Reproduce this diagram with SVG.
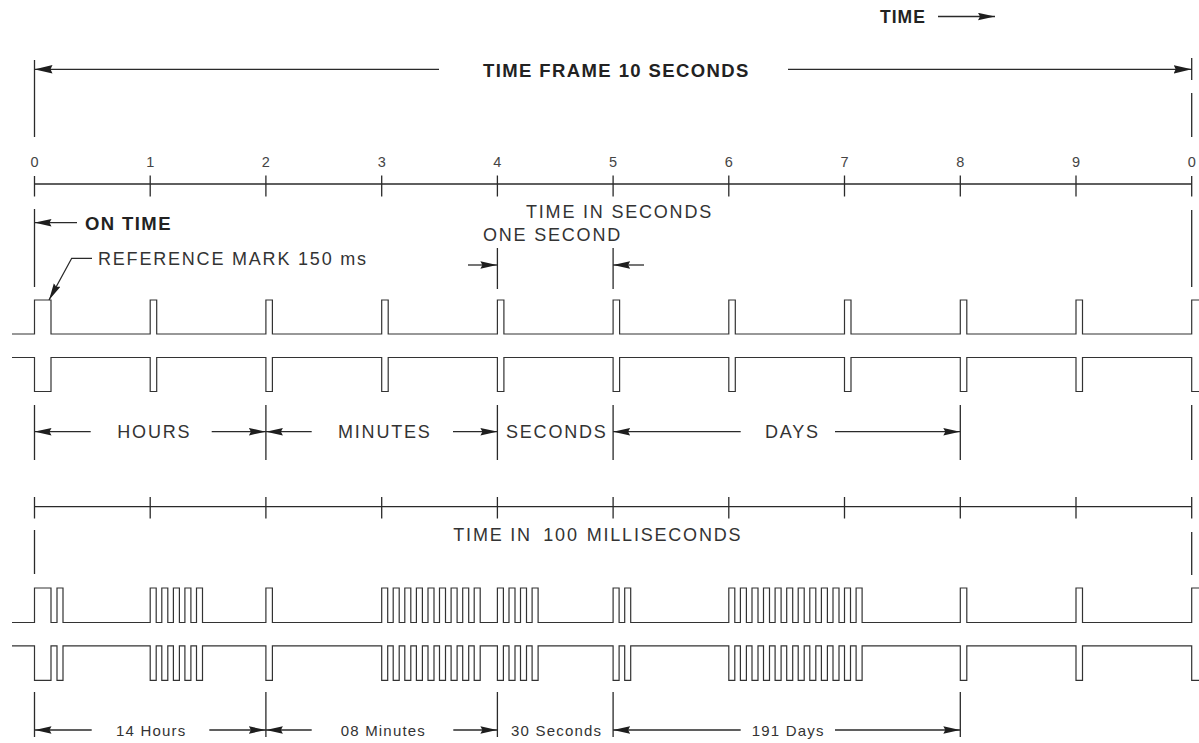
<svg xmlns="http://www.w3.org/2000/svg" width="1199" height="743" viewBox="0 0 1199 743">
<style>
.ln{stroke:#2a2a2a;stroke-width:1.3;fill:none}
.pt{stroke:#333;stroke-width:1.2;fill:none;stroke-linejoin:miter}
.ar{stroke:#2a2a2a;stroke-width:1.3;fill:none;marker-end:url(#ah)}
.arb{stroke:#2a2a2a;stroke-width:1.3;fill:none;marker-end:url(#ahb)}
.b{font-family:"Liberation Sans",Arial,sans-serif;font-weight:bold;font-size:18.5px;letter-spacing:1.4px;fill:#222}
.r{font-family:"Liberation Sans",Arial,sans-serif;font-size:18px;letter-spacing:1.8px;fill:#333}
.s{font-family:"Liberation Sans",Arial,sans-serif;font-size:15px;letter-spacing:1.2px;fill:#333}
.n{font-family:"Liberation Sans",Arial,sans-serif;font-size:14.5px;fill:#444;text-anchor:middle}
</style>
<defs>
<marker id="ah" markerUnits="userSpaceOnUse" markerWidth="17" markerHeight="8" viewBox="0 0 17 8" refX="17" refY="4" orient="auto">
<path d="M0,0.3 L17,4 L0,7.7 L2,4 Z" fill="#1e1e1e"/>
</marker>
<marker id="ahb" markerUnits="userSpaceOnUse" markerWidth="18" markerHeight="9" viewBox="0 0 18 9" refX="18" refY="4.5" orient="auto">
<path d="M0,0.3 L18,4.5 L0,8.7 L2,4.5 Z" fill="#1e1e1e"/>
</marker>
</defs>
<rect width="1199" height="743" fill="#fff"/>

<g id="time-direction">
<text class="b" x="880" y="23" style="font-size:17.5px;letter-spacing:1px">TIME</text>
<line class="ar" x1="938" y1="16.5" x2="995" y2="16.5"/>
</g>

<g id="time-frame">
<text class="b" x="483" y="77">TIME FRAME 10 SECONDS</text>
<line class="ln" x1="34.5" y1="60" x2="34.5" y2="137"/>
<line class="ln" x1="1191.7" y1="58" x2="1191.7" y2="80"/>
<line class="ln" x1="1191.7" y1="93" x2="1191.7" y2="137"/>
</g>

<g id="seconds-axis">
<line class="ln" x1="34.5" y1="184" x2="1191.7" y2="184"/>
<path class="ln" d="M34.5,176 V196.5 M150.2,175.5 V196.5 M265.9,175.5 V196.5 M381.7,175.5 V196.5 M497.4,175.5 V196.5 M613.1,175.5 V196.5 M728.8,175.5 V196.5 M844.5,175.5 V196.5 M960.3,175.5 V196.5 M1076,175.5 V196.5 M1191.7,176 V196.5"/>
<text class="n" x="34.5" y="166.5">0</text>
<text class="n" x="150.2" y="166.5">1</text>
<text class="n" x="265.9" y="166.5">2</text>
<text class="n" x="381.7" y="166.5">3</text>
<text class="n" x="497.4" y="166.5">4</text>
<text class="n" x="613.1" y="166.5">5</text>
<text class="n" x="728.8" y="166.5">6</text>
<text class="n" x="844.5" y="166.5">7</text>
<text class="n" x="960.3" y="166.5">8</text>
<text class="n" x="1076" y="166.5">9</text>
<text class="n" x="1191.7" y="166.5">0</text>
<text class="r" x="526" y="218.3">TIME IN SECONDS</text>
</g>

<g id="on-time">
<line class="ln" x1="34.5" y1="209" x2="34.5" y2="287"/>
<line class="ln" x1="1191.7" y1="210" x2="1191.7" y2="287"/>
<text class="b" x="85" y="230">ON TIME</text>
</g>

<g id="one-second">
<text class="r" x="483" y="240.7">ONE SECOND</text>
<line class="ln" x1="497.4" y1="248" x2="497.4" y2="289"/>
<line class="ln" x1="613.1" y1="248" x2="613.1" y2="289"/>
</g>

<g id="reference-mark">
<text class="r" x="98" y="265">REFERENCE MARK 150 ms</text>
</g>

<g id="pulse-train-seconds">
<path id="p1" class="pt" d="M12,334 H34.5 V300 H51 V334 H150.2 V300 H156.7 V334 H265.9 V300 H272.4 V334 H381.7 V300 H388.2 V334 H497.4 V300 H503.9 V334 H613.1 V300 H619.6 V334 H728.8 V300 H735.3 V334 H844.5 V300 H851 V334 H960.3 V300 H966.8 V334 H1076 V300 H1082.5 V334 H1191.7 V300 H1199"/>
<use href="#p1" transform="translate(0,691.5) scale(1,-1)"/>
</g>

<g id="code-fields">
<path class="ln" d="M34.5,405 V460 M265.9,405 V460 M497.4,405 V460 M613.1,405 V460 M960.3,405 V460 M1191.7,405 V460"/>
<text class="r" x="117.3" y="438.3">HOURS</text>
<text class="r" x="338" y="438.3">MINUTES</text>
<text class="r" x="506" y="438.3">SECONDS</text>
<text class="r" x="765" y="438.3">DAYS</text>
</g>

<g id="ms-axis">
<line class="ln" x1="34.5" y1="506.7" x2="1191.7" y2="506.7"/>
<path class="ln" d="M34.5,497 V518.5 M150.2,497 V518.5 M265.9,497 V518.5 M381.7,497 V518.5 M497.4,497 V518.5 M613.1,497 V518.5 M728.8,497 V518.5 M844.5,497 V518.5 M960.3,497 V518.5 M1076,497 V518.5 M1191.7,497 V518.5"/>
<line class="ln" x1="34.5" y1="530" x2="34.5" y2="574"/>
<line class="ln" x1="1191.7" y1="532" x2="1191.7" y2="575"/>
<text class="r" x="453.3" y="540.7">TIME IN <tspan x="543.3">100</tspan> <tspan x="586.7">MILLISECONDS</tspan></text>
</g>

<g id="pulse-train-code">
<path id="p2" class="pt" d="M12,622.5 H34.5 V588 H51 V622.5 H57 V588 H63 V622.5 H150.2 V588 H156.2 V622.5 H161.8 V588 H167.8 V622.5 H173.4 V588 H179.4 V622.5 H184.9 V588 H190.9 V622.5 H196.5 V588 H202.5 V622.5 H265.9 V588 H272.4 V622.5 H381.7 V588 H387.7 V622.5 H393.2 V588 H399.2 V622.5 H404.8 V588 H410.8 V622.5 H416.4 V588 H422.4 V622.5 H428 V588 H434 V622.5 H439.5 V588 H445.5 V622.5 H451.1 V588 H457.1 V622.5 H462.7 V588 H468.7 V622.5 H474.2 V588 H480.2 V622.5 H497.4 V588 H503.4 V622.5 H509 V588 H515 V622.5 H520.5 V588 H526.5 V622.5 H532.1 V588 H538.1 V622.5 H613.1 V588 H619.1 V622.5 H624.7 V588 H630.7 V622.5 H728.8 V588 H734.8 V622.5 H740.4 V588 H746.4 V622.5 H752 V588 H758 V622.5 H763.5 V588 H769.5 V622.5 H775.1 V588 H781.1 V622.5 H786.7 V588 H792.7 V622.5 H798.2 V588 H804.2 V622.5 H809.8 V588 H815.8 V622.5 H821.4 V588 H827.4 V622.5 H833 V588 H839 V622.5 H844.5 V588 H850.5 V622.5 H856.1 V588 H862.1 V622.5 H960.3 V588 H966.8 V622.5 H1076 V588 H1082.5 V622.5 H1191.7 V588 H1199"/>
<use href="#p2" transform="translate(0,1268.3) scale(1,-1)"/>
</g>

<g id="decoded-values">
<path class="ln" d="M34.5,692 V737 M265.9,692 V737 M497.4,692 V737 M613.1,692 V737 M960.3,692 V737"/>
<text class="s" x="116" y="736">14 Hours</text>
<text class="s" x="340.7" y="736">08 Minutes</text>
<text class="s" x="511" y="736">30 Seconds</text>
<text class="s" x="751.7" y="736">191 Days</text>
</g>

<g id="connectors">
<line class="arb" x1="439" y1="69.3" x2="34.5" y2="69.3"/>
<line class="arb" x1="788" y1="69.3" x2="1191.7" y2="69.3"/>
<line class="ar" x1="77" y1="222.7" x2="34.5" y2="222.7"/>
<line class="ar" x1="468" y1="265" x2="497.4" y2="265"/>
<line class="ar" x1="644" y1="265" x2="613.1" y2="265"/>
<path class="ar" d="M92,258.3 H71.7 L49,300"/>
<line class="ar" x1="90.7" y1="431.7" x2="34.5" y2="431.7"/>
<line class="ar" x1="211.7" y1="431.7" x2="265.9" y2="431.7"/>
<line class="ar" x1="311.7" y1="431.7" x2="265.9" y2="431.7"/>
<line class="ar" x1="453" y1="431.7" x2="497.4" y2="431.7"/>
<line class="ar" x1="740.7" y1="431.7" x2="613.1" y2="431.7"/>
<line class="ar" x1="835" y1="431.7" x2="960.3" y2="431.7"/>
<line class="ar" x1="91.7" y1="730" x2="34.5" y2="730"/>
<line class="ar" x1="209.3" y1="730" x2="265.9" y2="730"/>
<line class="ar" x1="311.7" y1="730" x2="265.9" y2="730"/>
<line class="ar" x1="453.3" y1="730" x2="497.4" y2="730"/>
<line class="ar" x1="740.7" y1="730" x2="613.1" y2="730"/>
<line class="ar" x1="835" y1="730" x2="960.3" y2="730"/>
</g>
</svg>
